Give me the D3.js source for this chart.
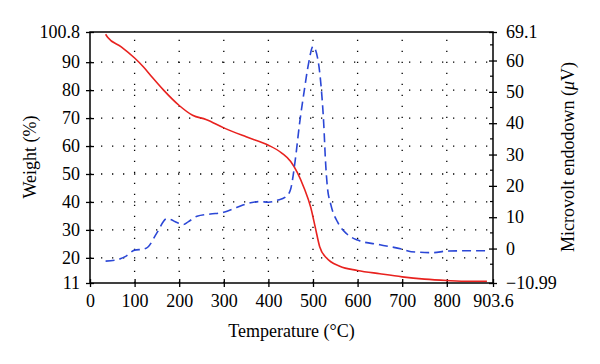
<!DOCTYPE html>
<html><head><meta charset="utf-8">
<script src="https://cdn.jsdelivr.net/npm/d3@7"></script>
<style>body{margin:0;background:#fff}svg{display:block}svg text{font-family:"Liberation Serif","DejaVu Serif",serif !important;fill:#000}</style>
</head><body><svg id="c" width="600" height="364"></svg>
<script>
const weightT = [35,40,70,100,120,140,165,200,230,260,300,350,400,430,450,465,480,495,505,515,530,560,600,650,700,750,800,850,890];
const weightV = [100,98.8,95.5,91.5,88.3,84.5,80,74.5,71,69.5,66.5,63.3,60.3,57.5,54.5,50.5,45,38,31,24,20,17,15.5,14.3,13.2,12.4,11.9,11.6,11.6];
const dtaT = [35,60,80,100,120,130,150,172,180,195,210,220,240,270,300,330,360,380,400,420,440,450,460,470,480,490,500,510,518,524,528,532,540,555,575,600,650,700,720,770,800,850,890];
const dtaV = [-4,-3.6,-2.5,-0.5,-0.2,0.5,5,9.5,9.3,8.3,7.7,8.5,10.3,11,11.6,13.2,14.6,15,14.8,15.4,16.6,19,28,40,50,59,64.5,61,52,40,28,20,14,8.5,4.8,2.7,1.2,-0.2,-1,-1.3,-0.8,-0.7,-0.7];
const xTicks = [0,100,200,300,400,500,600,700,800,903.6];
const yLeftTicks = [11,20,30,40,50,60,70,80,90,100.8];
const yRightTicks = [-10.99,0,10,20,30,40,50,60,69.1];

const svg = d3.select("#c");
const L=90,R=493,T=32,B=283;
const x = d3.scaleLinear().domain([0,903.6]).range([L,R]);
const yl = d3.scaleLinear().domain([11,100.8]).range([B,T]);
const yr = d3.scaleLinear().domain([-10.99,69.1]).range([B,T]);

// grid
const g = svg.append("g").attr("stroke","#000").attr("stroke-width",1.3).attr("stroke-dasharray","1.3,9.7");
xTicks.slice(1,-1).forEach(v=>g.append("line").attr("x1",x(v)).attr("x2",x(v)).attr("y1",B).attr("y2",T));
yLeftTicks.slice(1,-1).forEach(v=>g.append("line").attr("x1",L).attr("x2",R).attr("y1",yl(v)).attr("y2",yl(v)));

// frame
svg.append("rect").attr("x",L).attr("y",T).attr("width",R-L).attr("height",B-T).attr("fill","none").attr("stroke","#000").attr("stroke-width",1.5);

// axes
const fs = 18;
const ax = svg.append("g").attr("transform",`translate(0,${B})`).call(d3.axisBottom(x).tickValues(xTicks).tickFormat(d=>d).tickSizeInner(4).tickSizeOuter(0));
const ayl = svg.append("g").attr("transform",`translate(${L},0)`).call(d3.axisLeft(yl).tickValues(yLeftTicks).tickFormat(d=>d).tickSizeInner(4).tickSizeOuter(0));
const ayr = svg.append("g").attr("transform",`translate(${R},0)`).call(d3.axisRight(yr).tickValues(yRightTicks).tickFormat(d=>d<0?"\u2212"+Math.abs(d):d).tickSizeInner(4).tickSizeOuter(0));
[ax,ayl,ayr].forEach(a=>{a.attr("font-family",null).attr("font-size",null);a.select(".domain").remove();a.selectAll("line").attr("stroke-width",1.3);a.selectAll("text").style("font-size",fs+"px").style("font-family","'Liberation Serif', serif");});
ax.selectAll("line").attr("y1",-4);
ayl.selectAll("line").attr("x1",4);
ayr.selectAll("line").attr("x1",-4);
ax.selectAll("text").attr("dy","0.95em");
ayl.selectAll("text").attr("x",-10);
ayr.selectAll("text").attr("x",13);
// minor right ticks
const minor = d3.range(-5,69,10);
svg.append("g").selectAll("line").data(minor).join("line").attr("x1",R-3).attr("x2",R).attr("y1",d=>yr(d)).attr("y2",d=>yr(d)).attr("stroke","#000").attr("stroke-width",1.2);

// lines
const lineW = d3.line().x((d,i)=>x(weightT[i])).y(d=>yl(d)).curve(d3.curveMonotoneX);
svg.append("path").attr("d",lineW(weightV)).attr("fill","none").attr("stroke","#e8221f").attr("stroke-width",1.6);
const lineD = d3.line().x((d,i)=>x(dtaT[i])).y(d=>yr(d)).curve(d3.curveMonotoneX);
svg.append("path").attr("d",lineD(dtaV)).attr("fill","none").attr("stroke","#2b47d6").attr("stroke-width",1.6).attr("stroke-dasharray","9,5");

// titles
svg.append("text").attr("x",(L+R)/2).attr("y",337).attr("text-anchor","middle").style("font-size","18px").text("Temperature (\u00B0C)");
svg.append("text").attr("transform",`translate(36,157) rotate(-90)`).attr("text-anchor","middle").style("font-size","18px").text("Weight (%)");
const rt = svg.append("text").attr("transform",`translate(574,157) rotate(-90)`).attr("text-anchor","middle").style("font-size","18px");
rt.append("tspan").text("Microvolt endodown (");
rt.append("tspan").attr("font-style","italic").text("\u03BC");
rt.append("tspan").text("V)");
</script></body></html>
